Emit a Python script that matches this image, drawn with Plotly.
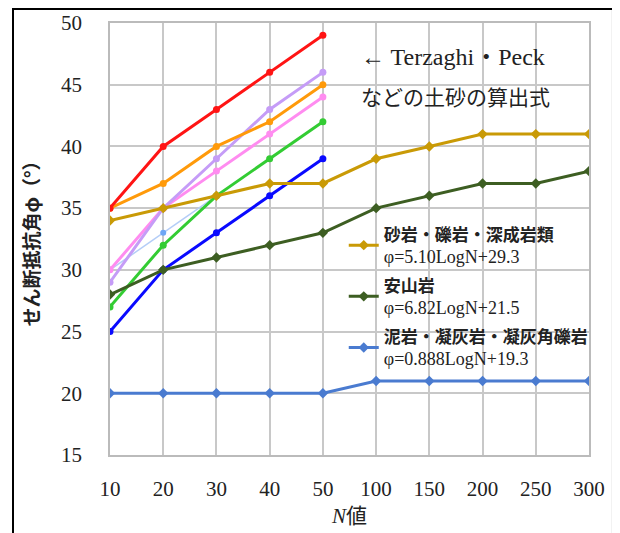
import plotly.graph_objects as go

categories = ["10", "20", "30", "40", "50", "100", "150", "200", "250", "300"]

# Terzaghi・Peck etc. (soil formulas) – only N = 10..50
red_vals = [35, 40, 43, 46, 49]
violet_vals = [29, 35, 39, 43, 46]
orange_vals = [35, 37, 40, 42, 45]
pink_vals = [30, 35, 38, 41, 44]
green_vals = [27, 32, 36, 39, 42]
blue_vals = [25, 30, 33, 36, 39]
lightblue_vals = [30, 33, 36]

# rock formulas
sandstone_vals = [34, 35, 36, 37, 37, 39, 40, 41, 41, 41]
andesite_vals = [28, 30, 31, 32, 33, 35, 36, 37, 37, 38]
mudstone_vals = [20, 20, 20, 20, 20, 21, 21, 21, 21, 21]

SERIF = "Liberation Serif, DejaVu Serif, serif"
FSPAN = "<span style='font-family:Liberation Serif,serif;font-size:18px'>"
sandstone_name = "<b>砂岩・礫岩・深成岩類</b><br>" + FSPAN + "φ=5.10LogN+29.3</span>"
andesite_name = "<b>安山岩</b><br>" + FSPAN + "φ=6.82LogN+21.5</span>"
mudstone_name = "<b>泥岩・凝灰岩・凝灰角礫岩</b><br>" + FSPAN + "φ=0.888LogN+19.3</span>"

y_ticks = [15, 20, 25, 30, 35, 40, 45, 50]

fig = go.Figure()

def soil(vals, color, width=3, msize=7, mcolor=None):
    fig.add_trace(go.Scatter(
        x=categories[:len(vals)], y=vals, mode="lines+markers",
        line=dict(color=color, width=width),
        marker=dict(color=mcolor or color, size=msize, symbol="circle"),
        showlegend=False, hoverinfo="skip"))

soil(lightblue_vals, "#b4cdf7", width=1.5, msize=6, mcolor="#6ea6f5")
soil(pink_vals, "#ff8cf0")
soil(violet_vals, "#c59cf7")
soil(orange_vals, "#ff9a0a")
soil(green_vals, "#33cc33")
soil(blue_vals, "#0a0aff")
soil(red_vals, "#ff1414")

def rock(vals, color, name, grp):
    fig.add_trace(go.Scatter(
        x=categories, y=vals, mode="lines+markers", name=name,
        legendgroup=grp,
        line=dict(color=color, width=3),
        marker=dict(color=color, size=8, symbol="diamond")))

rock(sandstone_vals, "#c99a06", sandstone_name, "a")
rock(andesite_vals, "#3d5e22", andesite_name, "b")
rock(mudstone_vals, "#4a7bd0", mudstone_name, "c")

# white boxes hiding the gridlines behind the text blocks
fig.add_shape(type="rect", xref="paper", yref="paper", x0=0.486, x1=1.0, y0=0.785, y1=0.985,
              fillcolor="white", line_width=0, layer="between")
fig.add_shape(type="rect", xref="paper", yref="paper", x0=0.526, x1=1.0, y0=0.185, y1=0.56,
              fillcolor="white", line_width=0, layer="between")
# outer frame
fig.add_shape(type="rect", xref="paper", yref="paper", x0=-0.2025, x1=1.050, y0=-0.3, y1=1.0324,
              line=dict(color="black", width=2), fillcolor="rgba(0,0,0,0)", layer="above")

fig.add_annotation(xref="paper", yref="paper", x=0.52, y=0.921, xanchor="left", yanchor="middle",
                   text="← Terzaghi・Peck", showarrow=False,
                   font=dict(family=SERIF + ", Noto Sans CJK JP", size=24, color="#222"))
fig.add_annotation(xref="paper", yref="paper", x=0.52, y=0.83, xanchor="left", yanchor="middle",
                   text="などの土砂の算出式", showarrow=False,
                   font=dict(family="Noto Sans CJK JP", size=21, color="#222"))

fig.update_layout(
    width=620, height=533,
    margin=dict(l=102, r=39, t=15, b=86, autoexpand=False),
    paper_bgcolor="white", plot_bgcolor="white",
    font=dict(family="Noto Sans CJK JP", color="#222"),
    legend=dict(x=0.488, y=0.552, xanchor="left", yanchor="top",
                bgcolor="rgba(255,255,255,0)", font=dict(size=17, color="#222"),
                tracegroupgap=4, itemwidth=30),
    xaxis=dict(type="category", categoryorder="array", categoryarray=categories,
               range=[0, 9], showgrid=True, gridcolor="#c8c8c8", gridwidth=1.5,
               showline=True, linecolor="#bbbbbb", linewidth=1.5, mirror=True,
               ticks="", ticklabelstandoff=14, automargin=False,
               tickfont=dict(family=SERIF, size=21, color="#222"),
               title=dict(text="<i>N</i>値", standoff=8,
                          font=dict(family=SERIF + ", Noto Sans CJK JP", size=21, color="#222"))),
    yaxis=dict(range=[15, 50], tickvals=y_ticks, showgrid=True, gridcolor="#c8c8c8", gridwidth=1.5,
               showline=True, linecolor="#bbbbbb", linewidth=1.5, mirror=True,
               ticks="", ticklabelstandoff=22, automargin=False,
               tickfont=dict(family=SERIF, size=21, color="#222"),
               title=dict(text="<b>せん断抵抗角φ（°）</b>", standoff=16,
                          font=dict(family="Noto Sans CJK JP", size=19, color="#222"))),
)

fig.write_html("out.html")
